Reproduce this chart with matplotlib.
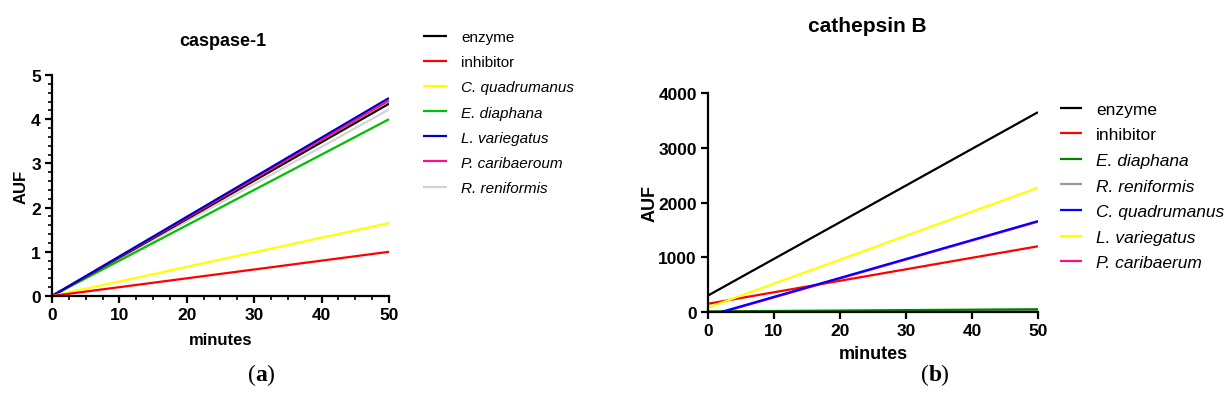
import numpy as np
import matplotlib.pyplot as plt
from matplotlib.ticker import MultipleLocator

plt.rcParams['font.family'] = ['Liberation Sans', 'DejaVu Sans']

# time points (minutes)
minutes = [0, 50]

# caspase-1 (AUF)
casp_names = ['enzyme', 'inhibitor', 'C. quadrumanus', 'E. diaphana',
              'L. variegatus', 'P. caribaeroum', 'R. reniformis']
casp_colors = ['#000000', '#ff0000', '#ffff00', '#00c000',
               '#0000c8', '#ff1080', '#d3d3d3']
casp_values = [
    [0, 4.35],
    [0, 1.00],
    [0, 1.65],
    [0, 4.00],
    [0, 4.48],
    [0, 4.42],
    [0, 4.22],
]

# cathepsin B (AUF)
cath_names = ['enzyme', 'inhibitor', 'E. diaphana', 'R. reniformis',
              'C. quadrumanus', 'L. variegatus', 'P. caribaerum']
cath_colors = ['#000000', '#ff0000', '#008000', '#999999',
               '#0000ff', '#ffff00', '#ff1080']
cath_values = [
    [300, 3650],
    [150, 1200],
    [10, 50],
    [0, 30],
    [-70, 1660],
    [80, 2270],
    [-80, 1650],
]
# drawing order so blue sits on pink and green on grey, like the original
cath_order = [6, 3, 2, 0, 1, 5, 4]
casp_order = [6, 3, 0, 5, 4, 2, 1]

fig = plt.figure(figsize=(12.31, 4.14), dpi=100)
ax1 = fig.add_axes([0.0422, 0.2826, 0.2738, 0.5338])
ax2 = fig.add_axes([0.5751, 0.2440, 0.2681, 0.5289])


def style_axes(ax, ylim, ystep, minor=True):
    ax.set_xlim(0, 50)
    ax.set_ylim(*ylim)
    for s in ['top', 'right']:
        ax.spines[s].set_visible(False)
    for s in ['left', 'bottom']:
        ax.spines[s].set_linewidth(1.6)
    ax.xaxis.set_major_locator(MultipleLocator(10))
    ax.yaxis.set_major_locator(MultipleLocator(ystep))
    if minor:
        ax.xaxis.set_minor_locator(MultipleLocator(2.5))
        ax.yaxis.set_minor_locator(MultipleLocator(ystep / 5))
    ax.tick_params(which='major', length=5, width=1.6, labelsize=12.5, pad=3)
    ax.tick_params(which='minor', length=3, width=1.2)
    for lab in ax.get_xticklabels() + ax.get_yticklabels():
        lab.set_fontweight('bold')


# (a) caspase-1
lines1 = {}
for i in casp_order:
    lines1[i], = ax1.plot(minutes, casp_values[i], color=casp_colors[i], lw=1.6,
                          label=casp_names[i], solid_capstyle='butt')
style_axes(ax1, (0, 5), 1)
ax1.set_xlabel('minutes', fontsize=12, fontweight='bold', labelpad=7)
ax1.set_ylabel('AUF', fontsize=12, fontweight='bold', labelpad=2)
fig.text(0.181, 0.90, 'caspase-1', fontsize=13, fontweight='bold', ha='center', va='center')

leg1 = fig.legend([lines1[i] for i in range(7)], casp_names, loc='upper left',
                  bbox_to_anchor=(0.3436, 0.925), frameon=False, fontsize=11,
                  handlelength=1.6, handletextpad=0.9, labelspacing=0.73,
                  borderpad=0, borderaxespad=0)
for j, t in enumerate(leg1.get_texts()):
    if j >= 2:
        t.set_fontstyle('italic')

# (b) cathepsin B
lines2 = {}
for i in cath_order:
    lines2[i], = ax2.plot(minutes, cath_values[i], color=cath_colors[i], lw=1.6,
                          label=cath_names[i], solid_capstyle='butt')
style_axes(ax2, (0, 4000), 1000, minor=False)
ax2.set_xlabel('minutes', fontsize=13, fontweight='bold', labelpad=5)
ax2.set_ylabel('AUF', fontsize=13, fontweight='bold', labelpad=0)
fig.text(0.7045, 0.937, 'cathepsin B', fontsize=15, fontweight='bold', ha='center', va='center')

leg2 = fig.legend([lines2[i] for i in range(7)], cath_names, loc='upper left',
                  bbox_to_anchor=(0.861, 0.752), frameon=False, fontsize=12.5,
                  handlelength=1.3, handletextpad=0.8, labelspacing=0.6,
                  borderpad=0, borderaxespad=0)
for j, t in enumerate(leg2.get_texts()):
    if j >= 2:
        t.set_fontstyle('italic')

fig.text(0.2075, 0.094, '(', fontsize=17, family='Liberation Serif', ha='right', va='center')
fig.text(0.2075, 0.094, 'a', fontsize=17, family='Liberation Serif', fontweight='bold', ha='left', va='center')
fig.text(0.2160, 0.094, ')', fontsize=17, family='Liberation Serif', ha='left', va='center')
fig.text(0.7545, 0.094, '(', fontsize=17, family='Liberation Serif', ha='right', va='center')
fig.text(0.7545, 0.094, 'b', fontsize=17, family='Liberation Serif', fontweight='bold', ha='left', va='center')
fig.text(0.7635, 0.094, ')', fontsize=17, family='Liberation Serif', ha='left', va='center')

fig.savefig('out.png', dpi=100)
